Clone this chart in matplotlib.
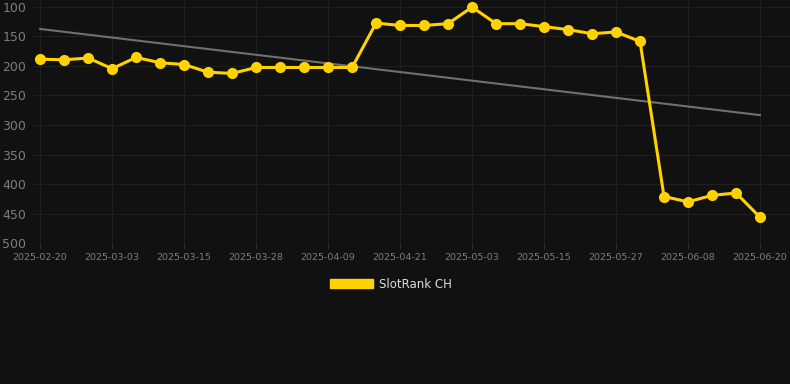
import numpy as np
import matplotlib.pyplot as plt
from matplotlib.patches import Patch

# rank values (lower number = better rank)
rank = [189, 190, 187, 205, 186, 195, 198, 211, 213, 203,
        203, 203, 203, 203, 128, 132, 132, 129, 101, 129,
        129, 134, 139, 146, 143, 159, 421, 430, 419, 415, 456]
tick_labels = ['2025-02-20', '2025-03-03', '2025-03-15', '2025-03-28',
               '2025-04-09', '2025-04-21', '2025-05-03', '2025-05-15',
               '2025-05-27', '2025-06-08', '2025-06-20']
series_name = 'SlotRank CH'

bg = '#111111'
x = np.arange(len(rank))

fig = plt.figure(figsize=(7.9, 3.84), dpi=100, facecolor=bg)
ax = fig.add_axes([0.042, 0.3664, 0.958, 0.6336], facecolor=bg)

# trend line (linear fit)
k, b = np.polyfit(x, rank, 1)
ax.plot(x, k * x + b, color='#707070', lw=1.5, zorder=2)

ax.plot(x, rank, color='#FFD200', lw=2.2, marker='o', markersize=7, zorder=3)

ax.set_xlim(-0.29, 31.25)
ax.set_ylim(500, 89)
ax.set_yticks([100, 150, 200, 250, 300, 350, 400, 450, 500])
ax.set_xticks(x[::3])
ax.set_xticklabels(tick_labels)

ax.grid(True, color='#1f1f1f', lw=0.8)
for s in ax.spines.values():
    s.set_visible(False)
ax.axhline(500, color='#2c2c2c', lw=1, zorder=1)
ax.tick_params(axis='y', colors='#7d7d7d', labelsize=9, length=0, pad=5)
ax.tick_params(axis='x', colors='#7d7d7d', labelsize=6.8, length=4, color='#2c2c2c', pad=3)

leg = fig.legend(handles=[Patch(facecolor='#FFD200', edgecolor='#FFD200')],
                 labels=[series_name], loc='center', bbox_to_anchor=(0.495, 0.26),
                 frameon=False, handlelength=3.6, handleheight=0.9,
                 fontsize=8.5, labelcolor='#dddddd', handletextpad=0.5)

fig.savefig('out.png', dpi=100, facecolor=bg)
